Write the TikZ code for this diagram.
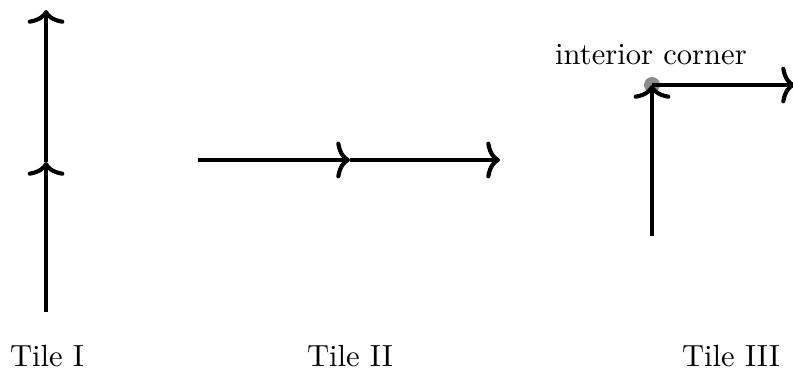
\documentclass[tikz,border=0pt]{standalone}
\usetikzlibrary{arrows.meta}
\begin{document}
\begin{tikzpicture}[x=0.01149cm,y=-0.01149cm,
  edge/.style={line width=1.35pt,-{Computer Modern Rightarrow[width=12pt,length=4.5pt]}},
  lbl/.style={inner sep=0pt,font=\normalsize}]
\useasboundingbox (0,0) rectangle (793,388);
% Tile I
\coordinate (a0) at (46,312);
\coordinate (a1) at (46,162);
\coordinate (a2) at (46,10);
\draw[edge] (a0) -- (a1);
\draw[edge] (a1) -- (a2);
% Tile II
\coordinate (b0) at (198,160);
\coordinate (b1) at (350,160);
\coordinate (b2) at (500,160);
\draw[edge] (b0) -- (b1);
\draw[edge] (b1) -- (b2);
% Tile III
\coordinate (c0) at (652,236);
\coordinate (c1) at (652,85);
\coordinate (c2) at (795,85);
\fill[gray!90] (c1) circle (8);
\draw[edge] (c0) -- (c1);
\draw[edge] (c1) -- (c2);
\node[lbl] (ic) at (651,55) {interior corner};
% labels
\node[lbl] (t1) at (47,356) {Tile I};
\node[lbl] (t2) at (350,356) {Tile II};
\node[lbl] (t3) at (731,356) {Tile III};
\end{tikzpicture}
\end{document}
